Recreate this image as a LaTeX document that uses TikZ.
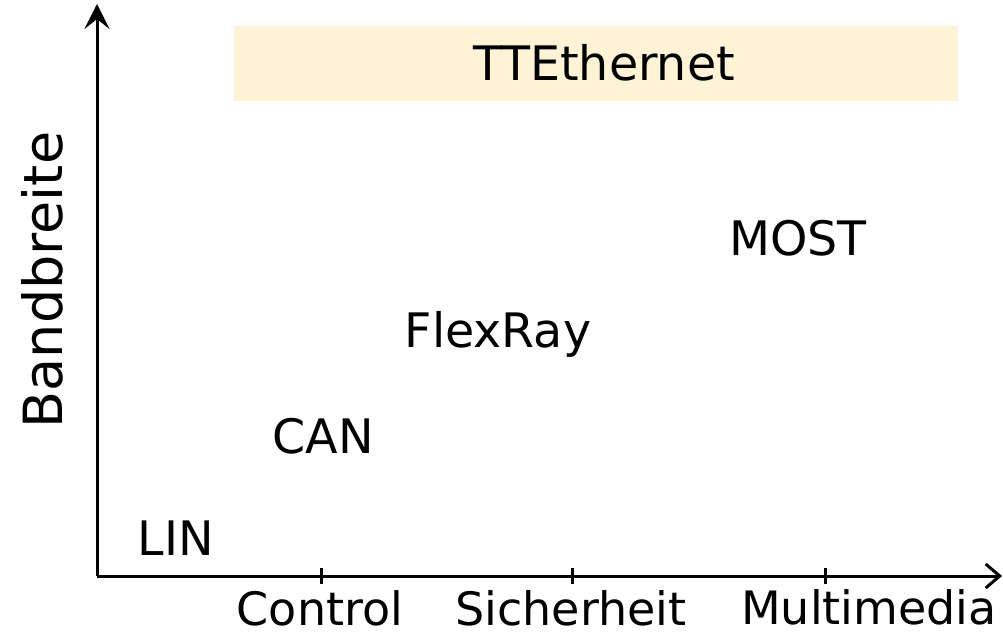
\documentclass[tikz,border=0pt]{standalone}
\usepackage{fontspec}
\setmainfont{DejaVu Sans}
\usetikzlibrary{arrows.meta}
\definecolor{bandfill}{HTML}{FEF3D5}
\tikzset{
  axisline/.style={line width=3pt, line cap=butt},
  tickmark/.style={line width=3pt},
  busname/.style={inner sep=0pt, anchor=base, font=\fontsize{47.5}{52}\selectfont},
  ticklabel/.style={inner sep=0pt, anchor=base, font=\fontsize{46}{50}\selectfont},
}
\begin{document}
\begin{tikzpicture}[x=1pt, y=-1pt]
  \useasboundingbox (0,0) rectangle (1003,636);
  % highlighted band for the top-end bus
  \fill[bandfill] (234,26) rectangle (958,101);
  \node[busname] (tte) at (604,81) {TTEthernet};

  % axes
  \coordinate (o) at (97,576);
  \coordinate (ytop) at (97,4);
  \coordinate (xend) at (1002,576);
  \draw[axisline, -{Stealth[length=25pt, width=25pt, inset=10pt]}] (o) -- (ytop);
  \draw[axisline, -{Straight Barb[length=14pt, width=24pt, line width=3pt]}] (o) -- (xend);

  % ticks on the horizontal axis
  \foreach \n/\x in {tc/321, ts/572, tm/825} {
    \coordinate (\n) at (\x,576);
    \draw[tickmark] ([yshift=-8pt]\n) -- ([yshift=8pt]\n);
  }
  \node[ticklabel] (lc) at (320,625) {Control};
  \node[ticklabel] (ls) at (571,625) {Sicherheit};
  \node[ticklabel] (lm) at (869,624) {Multimedia};

  % vertical axis label
  \node[inner sep=0pt, anchor=base, rotate=90, font=\fontsize{54}{60}\selectfont] (yl) at (62,280) {Bandbreite};

  % bus systems
  \node[busname] (lin) at (176,555) {LIN};
  \node[busname] (can) at (323,453) {CAN};
  \node[busname] (flex) at (498,347) {FlexRay};
  \node[busname] (most) at (798,255) {MOST};
\end{tikzpicture}
\end{document}
